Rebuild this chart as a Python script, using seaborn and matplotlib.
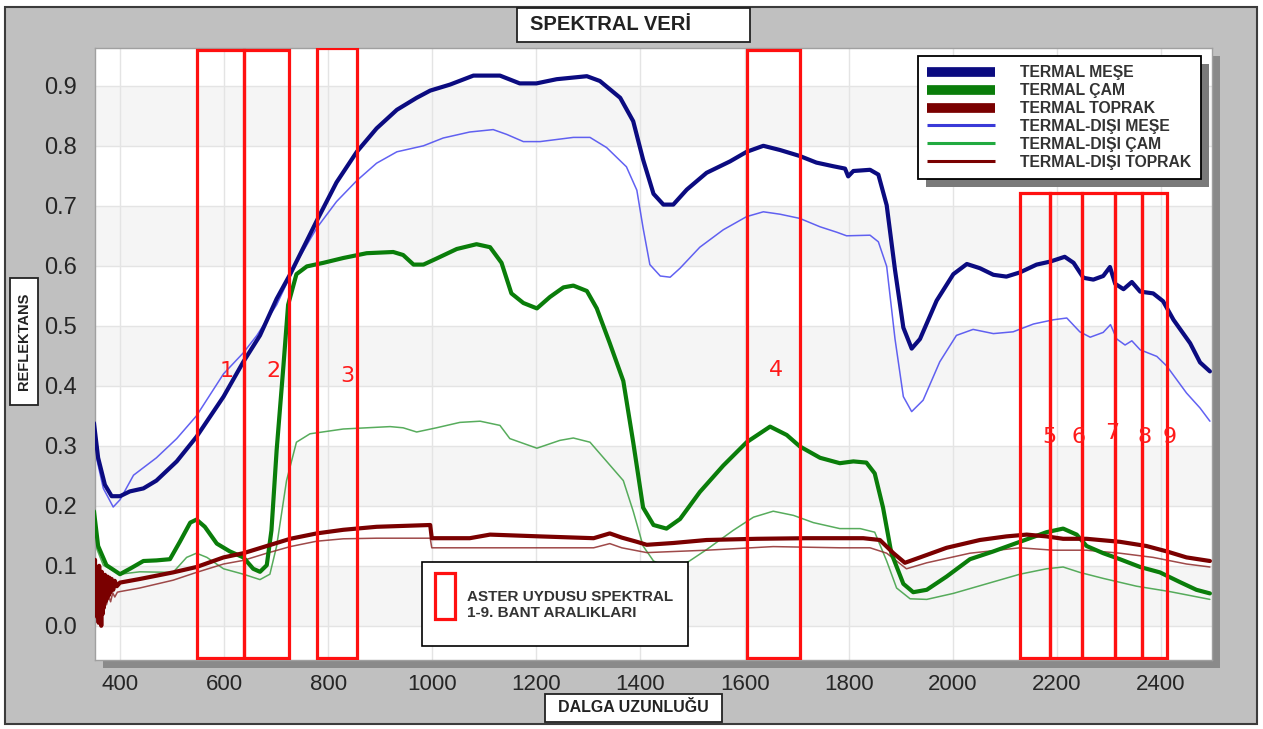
import pandas as pd
import matplotlib
matplotlib.use("Agg")
import matplotlib.pyplot as plt
import seaborn as sns
from matplotlib.patches import Rectangle
from matplotlib.lines import Line2D
from matplotlib.ticker import MultipleLocator, FormatStrFormatter

# --- spectra (wavelength in nm, reflectance) ---
mese_t_wl = [350, 358, 371, 384, 400, 419, 445, 470, 509, 547, 599, 637, 669, 701, 727,
             778, 816, 855, 893, 932, 970, 996, 1034, 1079, 1130, 1168, 1200, 1239, 1297, 1322,
             1361, 1386, 1405, 1425, 1444, 1463, 1489, 1527, 1572, 1604, 1636, 1668, 1706, 1738, 1770,
             1793, 1799, 1809, 1841, 1857, 1873, 1889, 1905, 1921, 1937, 1969, 2001, 2027, 2052, 2078,
             2103, 2129, 2161, 2187, 2215, 2232, 2251, 2270, 2289, 2302, 2312, 2328, 2344, 2360, 2385,
             2404, 2424, 2456, 2475, 2494]
mese_t = [0.338, 0.280, 0.235, 0.216, 0.216, 0.224, 0.229, 0.242, 0.274, 0.315, 0.382, 0.440, 0.484, 0.545, 0.586,
          0.675, 0.739, 0.790, 0.829, 0.860, 0.880, 0.892, 0.902, 0.917, 0.917, 0.904, 0.904, 0.911, 0.916, 0.908,
          0.880, 0.841, 0.777, 0.720, 0.702, 0.702, 0.727, 0.755, 0.774, 0.790, 0.800, 0.793, 0.783, 0.772, 0.766,
          0.762, 0.749, 0.758, 0.760, 0.752, 0.701, 0.593, 0.497, 0.462, 0.478, 0.542, 0.586, 0.603, 0.596, 0.585,
          0.582, 0.589, 0.602, 0.607, 0.615, 0.605, 0.580, 0.577, 0.583, 0.598, 0.570, 0.561, 0.573, 0.557, 0.554,
          0.541, 0.510, 0.471, 0.439, 0.424]

cam_t_wl = [350, 358, 374, 400, 419, 445, 470, 496, 515, 535, 547, 563, 586, 611, 637,
            656, 669, 682, 691, 701, 714, 723, 739, 759, 791, 829, 874, 925, 944, 964,
            983, 1008, 1047, 1085, 1111, 1133, 1152, 1175, 1201, 1226, 1252, 1271, 1297, 1316, 1341,
            1367, 1386, 1405, 1425, 1450, 1476, 1514, 1559, 1604, 1649, 1681, 1706, 1745, 1783, 1809,
            1834, 1850, 1866, 1882, 1905, 1924, 1950, 1988, 2033, 2078, 2129, 2180, 2212, 2238, 2257,
            2289, 2321, 2360, 2398, 2436, 2468, 2494]
cam_t = [0.191, 0.133, 0.101, 0.086, 0.095, 0.108, 0.109, 0.111, 0.140, 0.172, 0.177, 0.165, 0.137, 0.124, 0.114,
         0.095, 0.090, 0.101, 0.159, 0.293, 0.433, 0.535, 0.586, 0.599, 0.605, 0.613, 0.621, 0.623, 0.618, 0.602,
         0.602, 0.612, 0.628, 0.636, 0.631, 0.605, 0.554, 0.538, 0.529, 0.548, 0.564, 0.567, 0.558, 0.529, 0.471,
         0.408, 0.306, 0.197, 0.168, 0.162, 0.178, 0.223, 0.267, 0.306, 0.332, 0.318, 0.299, 0.280, 0.271, 0.274,
         0.272, 0.254, 0.197, 0.121, 0.070, 0.056, 0.060, 0.082, 0.111, 0.124, 0.140, 0.156, 0.162, 0.152, 0.133,
         0.121, 0.111, 0.098, 0.089, 0.073, 0.060, 0.054]

toprak_t_wl = [350, 352, 353, 355, 356, 357, 359, 360, 361, 363, 364, 365, 367, 368, 369,
               371, 372, 373, 375, 376, 378, 380, 381, 384, 387, 390, 394, 400, 438, 502,
               547, 599, 637, 682, 727, 778, 829, 893, 996, 999, 1072, 1111, 1207, 1310, 1341,
               1364, 1393, 1412, 1463, 1527, 1623, 1719, 1828, 1860, 1886, 1908, 1937, 1988, 2052, 2103,
               2142, 2180, 2212, 2257, 2321, 2372, 2411, 2449, 2494]
toprak_t = [0.060, 0.110, 0.025, 0.095, 0.015, 0.080, 0.005, 0.100, 0.030, 0.085, 0.000, 0.090, 0.020, 0.080, 0.030,
            0.085, 0.040, 0.080, 0.045, 0.082, 0.050, 0.080, 0.055, 0.078, 0.060, 0.075, 0.066, 0.072, 0.078, 0.089,
            0.098, 0.114, 0.121, 0.133, 0.145, 0.154, 0.160, 0.165, 0.168, 0.146, 0.146, 0.152, 0.149, 0.146, 0.154,
            0.147, 0.140, 0.135, 0.138, 0.143, 0.145, 0.146, 0.146, 0.143, 0.121, 0.105, 0.114, 0.130, 0.143, 0.149,
            0.152, 0.149, 0.145, 0.145, 0.140, 0.133, 0.124, 0.114, 0.108]

mese_n_wl = [350, 368, 387, 400, 426, 470, 509, 547, 599, 637, 663, 701, 739, 778, 816,
             855, 893, 932, 983, 1021, 1072, 1117, 1143, 1175, 1207, 1271, 1303, 1335, 1373, 1393,
             1405, 1418, 1438, 1457, 1476, 1514, 1559, 1604, 1636, 1668, 1706, 1745, 1777, 1796, 1841,
             1857, 1873, 1889, 1905, 1921, 1943, 1975, 2007, 2039, 2078, 2116, 2155, 2193, 2219, 2244,
             2264, 2289, 2303, 2315, 2331, 2344, 2360, 2392, 2411, 2449, 2475, 2494]
mese_n = [0.299, 0.229, 0.198, 0.210, 0.251, 0.280, 0.312, 0.350, 0.420, 0.455, 0.484, 0.535, 0.605, 0.663, 0.707,
          0.742, 0.771, 0.790, 0.800, 0.813, 0.823, 0.827, 0.819, 0.807, 0.807, 0.814, 0.814, 0.797, 0.765, 0.726,
          0.663, 0.602, 0.583, 0.581, 0.596, 0.631, 0.660, 0.682, 0.690, 0.686, 0.679, 0.665, 0.656, 0.650, 0.651,
          0.640, 0.599, 0.478, 0.382, 0.357, 0.376, 0.440, 0.484, 0.494, 0.487, 0.490, 0.503, 0.510, 0.513, 0.490,
          0.481, 0.489, 0.502, 0.478, 0.468, 0.475, 0.460, 0.449, 0.433, 0.388, 0.363, 0.341]

cam_n_wl = [350, 368, 400, 438, 502, 528, 547, 567, 599, 637, 669, 688, 701, 720, 739,
            765, 829, 919, 944, 970, 1008, 1053, 1092, 1130, 1149, 1201, 1245, 1271, 1303, 1335,
            1367, 1386, 1405, 1425, 1450, 1482, 1527, 1578, 1617, 1655, 1694, 1732, 1783, 1822, 1850,
            1873, 1892, 1918, 1950, 2001, 2065, 2129, 2180, 2212, 2244, 2289, 2353, 2417, 2494]
cam_n = [0.140, 0.101, 0.086, 0.090, 0.089, 0.114, 0.121, 0.114, 0.095, 0.086, 0.077, 0.086, 0.133, 0.242, 0.306,
         0.320, 0.328, 0.332, 0.330, 0.323, 0.330, 0.339, 0.341, 0.334, 0.312, 0.296, 0.309, 0.313, 0.306, 0.274,
         0.242, 0.191, 0.133, 0.108, 0.098, 0.101, 0.127, 0.159, 0.181, 0.191, 0.184, 0.172, 0.162, 0.162, 0.156,
         0.108, 0.063, 0.045, 0.044, 0.054, 0.070, 0.086, 0.095, 0.098, 0.089, 0.079, 0.066, 0.057, 0.044]

toprak_n_wl = [350, 353, 356, 359, 362, 365, 368, 371, 374, 378, 382, 386, 390, 395, 400,
               438, 502, 547, 599, 637, 682, 727, 778, 829, 893, 996, 999, 1072, 1310, 1341,
               1364, 1412, 1527, 1655, 1783, 1841, 1873, 1911, 1950, 2033, 2129, 2193, 2257, 2321, 2385,
               2449, 2494]
toprak_n = [0.040, 0.070, 0.020, 0.055, 0.010, 0.050, 0.025, 0.055, 0.035, 0.050, 0.040, 0.055, 0.048, 0.056, 0.057,
            0.063, 0.076, 0.089, 0.103, 0.109, 0.121, 0.132, 0.141, 0.145, 0.146, 0.146, 0.130, 0.130, 0.130, 0.137,
            0.130, 0.122, 0.126, 0.132, 0.130, 0.130, 0.121, 0.095, 0.105, 0.121, 0.130, 0.126, 0.126, 0.121, 0.114,
            0.103, 0.098]

series_names = ["TERMAL MEŞE", "TERMAL ÇAM", "TERMAL TOPRAK",
                "TERMAL-DIŞI MEŞE", "TERMAL-DIŞI ÇAM", "TERMAL-DIŞI TOPRAK"]

# ASTER band ranges (nm) and the labels written inside them
band_names = ["1", "2", "3", "4", "5", "6", "7", "8", "9"]
band_lo = [548, 638, 778, 1605, 2129, 2187, 2249, 2312, 2364]
band_hi = [638, 724, 856, 1707, 2187, 2249, 2312, 2364, 2411]
band_top = [0.960, 0.960, 0.963, 0.960, 0.722, 0.722, 0.722, 0.722, 0.722]
band_label_x = [604, 694, 836, 1660, 2186, 2242, 2306, 2369, 2417]
band_label_y = [0.425, 0.425, 0.417, 0.427, 0.315, 0.315, 0.321, 0.315, 0.315]

# --- long table for seaborn ---
frames = []
for name, wl, refl in zip(series_names,
                          [mese_t_wl, cam_t_wl, toprak_t_wl, mese_n_wl, cam_n_wl, toprak_n_wl],
                          [mese_t, cam_t, toprak_t, mese_n, cam_n, toprak_n]):
    frames.append(pd.DataFrame({"wl": wl, "refl": refl, "seri": name}))
df = pd.concat(frames, ignore_index=True)

colors = {
    "TERMAL MEŞE": "#0b0b80", "TERMAL ÇAM": "#0a7d0a", "TERMAL TOPRAK": "#7a0000",
    "TERMAL-DIŞI MEŞE": "#4646f0", "TERMAL-DIŞI ÇAM": "#3a9e40", "TERMAL-DIŞI TOPRAK": "#8e2a2a",
}
legend_colors = {
    "TERMAL MEŞE": "#0b0b80", "TERMAL ÇAM": "#0a7d0a", "TERMAL TOPRAK": "#7a0000",
    "TERMAL-DIŞI MEŞE": "#3a3ad8", "TERMAL-DIŞI ÇAM": "#22aa40", "TERMAL-DIŞI TOPRAK": "#7a0000",
}

sns.set_style("white")
plt.rcParams["font.family"] = ["Liberation Sans", "DejaVu Sans"]

W, H = 1263, 729


def fbox(x0, y0, x1, y1):
    # pixel box of the reference -> figure fraction (left, bottom, width, height)
    return (x0 / W, 1 - y1 / H, (x1 - x0) / W, (y1 - y0) / H)


def fig_rect(box, **kw):
    l, b, w, h = fbox(*box)
    fig.patches.append(Rectangle((l, b), w, h, transform=fig.transFigure, **kw))


fig = plt.figure(figsize=(W / 100, H / 100), dpi=100)
fig.patch.set_facecolor("white")

# grey panel and plot shadow
fig_rect((5, 7, 1257, 724), facecolor="#c0c0c0", edgecolor="#3c3c3c", lw=1.5, zorder=-3)
fig_rect((103, 56, 1220, 668), facecolor="#8a8a8a", edgecolor="none", zorder=-2)

ax = fig.add_axes(fbox(95, 48, 1212, 660))
ax.set_facecolor("white")

# alternating horizontal bands
for v in [0.0, 0.2, 0.4, 0.6, 0.8]:
    ax.axhspan(v, v + 0.1, color="#f5f5f5", zorder=0, lw=0)
ax.grid(True, which="major", color="#e4e4e4", lw=1, zorder=0.5)
ax.set_axisbelow(True)

# thin (non-thermal) lines first, thick ones on top
for name in series_names[3:] + series_names[:3]:
    thick = not name.startswith("TERMAL-DIŞI")
    sns.lineplot(data=df[df["seri"] == name], x="wl", y="refl", ax=ax,
                 color=colors[name], linewidth=3.0 if thick else 1.1,
                 alpha=1.0 if thick else 0.85,
                 estimator=None, sort=False, legend=False, zorder=3 if thick else 2)

# ASTER band rectangles
for lo, hi, top in zip(band_lo, band_hi, band_top):
    ax.add_patch(Rectangle((lo, -0.053), hi - lo, top + 0.053, fill=False,
                           edgecolor="#ff1010", lw=2.3, zorder=4))
for lab, bx, by in zip(band_names, band_label_x, band_label_y):
    ax.text(bx, by, lab, color="#ff1a1a", fontsize=16, ha="center", va="center",
            family=["DejaVu Sans"], zorder=5)

ax.set_xlim(352, 2498)
ax.set_ylim(-0.057, 0.963)
ax.xaxis.set_major_locator(MultipleLocator(200))
ax.xaxis.set_minor_locator(MultipleLocator(50))
ax.yaxis.set_major_locator(MultipleLocator(0.1))
ax.yaxis.set_minor_locator(MultipleLocator(0.02))
ax.yaxis.set_major_formatter(FormatStrFormatter("%.1f"))
ax.set_xticks(range(400, 2401, 200))
ax.tick_params(axis="both", which="major", direction="out", color="#777777",
               labelcolor="#262626")
ax.tick_params(axis="y", which="major", length=11, width=1, pad=2, labelsize=17)
ax.tick_params(axis="x", which="major", length=7, width=1, pad=3, labelsize=16)
ax.tick_params(axis="y", which="minor", direction="in", length=9, width=1, color="#888888")
ax.tick_params(axis="x", which="minor", direction="in", length=8, width=1, color="#888888")
ax.set_xlabel("")
ax.set_ylabel("")
for sp in ax.spines.values():
    sp.set_color("#a0a0a0")
    sp.set_linewidth(1)

# legend
handles = []
for name in series_names:
    thick = not name.startswith("TERMAL-DIŞI")
    handles.append(Line2D([], [], color=legend_colors[name], lw=7 if thick else 2.2,
                          solid_capstyle="butt", label=name))
leg = ax.legend(handles=handles, loc="upper left", bbox_to_anchor=(918 / W, 1 - 56 / H),
                bbox_transform=fig.transFigure, borderaxespad=0, frameon=True,
                fancybox=False, framealpha=1, edgecolor="black",
                prop={"weight": "bold", "size": 11.3}, handlelength=4.3,
                handletextpad=1.6, labelspacing=0.18, borderpad=0.6,
                shadow={"ox": 6, "oy": -6, "facecolor": "#7a7a7a", "edgecolor": "none", "alpha": 1})
leg.get_frame().set_linewidth(1.3)
for t in leg.get_texts():
    t.set_color("#333333")

# ASTER key box
fig_rect((422, 562, 688, 646), facecolor="white", edgecolor="black", lw=1.2, zorder=6)
fig_rect((435, 573, 455, 619), facecolor="none", edgecolor="#ff1010", lw=2.3, zorder=7)
fig.text(467 / W, 1 - 605 / H, "ASTER UYDUSU SPEKTRAL\n1-9. BANT ARALIKLARI",
         fontsize=11, weight="bold", color="#333333", ha="left", va="center",
         linespacing=1.2, zorder=7)

# title / axis label boxes
for box in [(517, 8, 750, 42), (10, 278, 38, 405), (545, 694, 722, 722)]:
    fig_rect(box, facecolor="white", edgecolor="#222222", lw=1.3, zorder=6)
fig.text(610 / W, 1 - 25 / H, "SPEKTRAL VERİ", fontsize=14.5, weight="bold",
         color="#222222", ha="center", va="center", zorder=7)
fig.text(24 / W, 1 - 341.5 / H, "REFLEKTANS", fontsize=10.5, weight="bold", rotation=90,
         color="#222222", ha="center", va="center", zorder=7)
fig.text((545 + 722) / 2 / W, 1 - 708 / H, "DALGA UZUNLUĞU", fontsize=11.5, weight="bold",
         color="#222222", ha="center", va="center", zorder=7)

fig.savefig("out.png", dpi=100)
